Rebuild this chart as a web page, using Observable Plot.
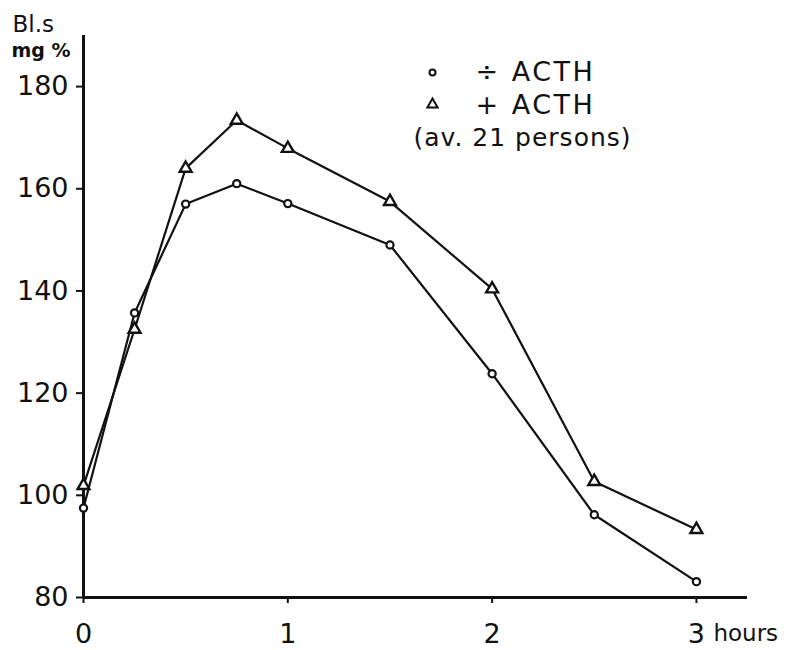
<!DOCTYPE html>
<html>
<head>
<meta charset="utf-8">
<script src="https://cdn.jsdelivr.net/npm/d3@7"></script>
<script src="https://cdn.jsdelivr.net/npm/@observablehq/plot@0.6"></script>
<style>
  html, body { margin: 0; padding: 0; background: #fff; }
  #chart svg { display: block; }
  .legend-text text { letter-spacing: 2.5px; }
  .legend-note text { letter-spacing: 1px; }
</style>
</head>
<body>
<div id="chart"></div>
<script>
// Time after glucose intake (hours)
const hours = [0, 0.25, 0.5, 0.75, 1, 1.5, 2, 2.5, 3];
// Blood sugar mg % without ACTH (circles)
const withoutACTH = [97.5, 135.7, 157, 161, 157.1, 149, 123.8, 96.2, 83.1];
// Blood sugar mg % with ACTH (triangles)
const withACTH = [101.9, 132.5, 164, 173.4, 167.9, 157.5, 140.4, 102.7, 93.3];
const yTicks = [80, 100, 120, 140, 160, 180];
const xTicks = [0, 1, 2, 3];
const legendLabels = ["÷ ACTH", "+ ACTH", "(av. 21 persons)"];

const rowsA = hours.map((h, i) => ({h, v: withoutACTH[i]}));
const rowsB = hours.map((h, i) => ({h, v: withACTH[i]}));

const font = "'DejaVu Sans', sans-serif";

const chart = Plot.plot({
  width: 787,
  height: 650,
  marginLeft: 83,
  marginRight: 40,
  marginTop: 35,
  marginBottom: 53,
  style: {fontFamily: font, color: "#111", background: "#fff"},
  x: {domain: [0, 3.25]},
  y: {domain: [80, 190]},
  marks: [
    Plot.axisY({ticks: yTicks, tickSize: 7, tickPadding: 8, fontSize: 27, label: null, strokeWidth: 2, tickFormat: d => d}),
    Plot.axisX({ticks: xTicks, tickSize: 6, tickPadding: 20, fontSize: 27, label: null, strokeWidth: 2, tickFormat: d => d}),
    Plot.ruleX([0], {stroke: "#111", strokeWidth: 3}),
    Plot.ruleY([80], {stroke: "#111", strokeWidth: 3}),
    Plot.line(rowsA, {x: "h", y: "v", stroke: "#111", strokeWidth: 2.2}),
    Plot.line(rowsB, {x: "h", y: "v", stroke: "#111", strokeWidth: 2.2}),
    Plot.dot(rowsA, {x: "h", y: "v", r: 3.6, fill: "#fff", stroke: "#111", strokeWidth: 2.2}),
    Plot.dot(rowsB, {x: "h", y: "v", r: 4.4, symbol: "triangle", fill: "#fff", stroke: "#111", strokeWidth: 2.4}),
    // "hours" unit after last tick
    Plot.text([xTicks[xTicks.length - 1]], {x: d => d, frameAnchor: "bottom", lineAnchor: "middle", dy: 36, dx: 17, text: () => "hours", textAnchor: "start", fontSize: 23, fill: "#111"}),
    // y unit label
    Plot.text(["Bl.s"], {frameAnchor: "top-left", lineAnchor: "middle", dx: -71, dy: -11, text: d => d, textAnchor: "start", fontSize: 23, fill: "#111"}),
    Plot.text(["mg %"], {frameAnchor: "top-left", lineAnchor: "middle", dx: -72, dy: 15, text: d => d, textAnchor: "start", fontSize: 19, fill: "#111", fontWeight: "bold"}),
    // legend
    Plot.dot([0], {frameAnchor: "top-left", dx: 349, dy: 37, r: 3, fill: "#fff", stroke: "#111", strokeWidth: 2}),
    Plot.dot([0], {frameAnchor: "top-left", dx: 349, dy: 69, r: 3.8, symbol: "triangle", fill: "#fff", stroke: "#111", strokeWidth: 2}),
    Plot.text([legendLabels[0]], {className: "legend-text", frameAnchor: "top-left", lineAnchor: "middle", dx: 392, dy: 37, text: d => d, textAnchor: "start", fontSize: 27, fill: "#111"}),
    Plot.text([legendLabels[1]], {className: "legend-text", frameAnchor: "top-left", lineAnchor: "middle", dx: 392, dy: 70, text: d => d, textAnchor: "start", fontSize: 27, fill: "#111"}),
    Plot.text([legendLabels[2]], {className: "legend-note", frameAnchor: "top-left", lineAnchor: "middle", dx: 330, dy: 102, text: d => d, textAnchor: "start", fontSize: 25, fill: "#111"})
  ]
});
document.getElementById("chart").appendChild(chart);
</script>
</body>
</html>
